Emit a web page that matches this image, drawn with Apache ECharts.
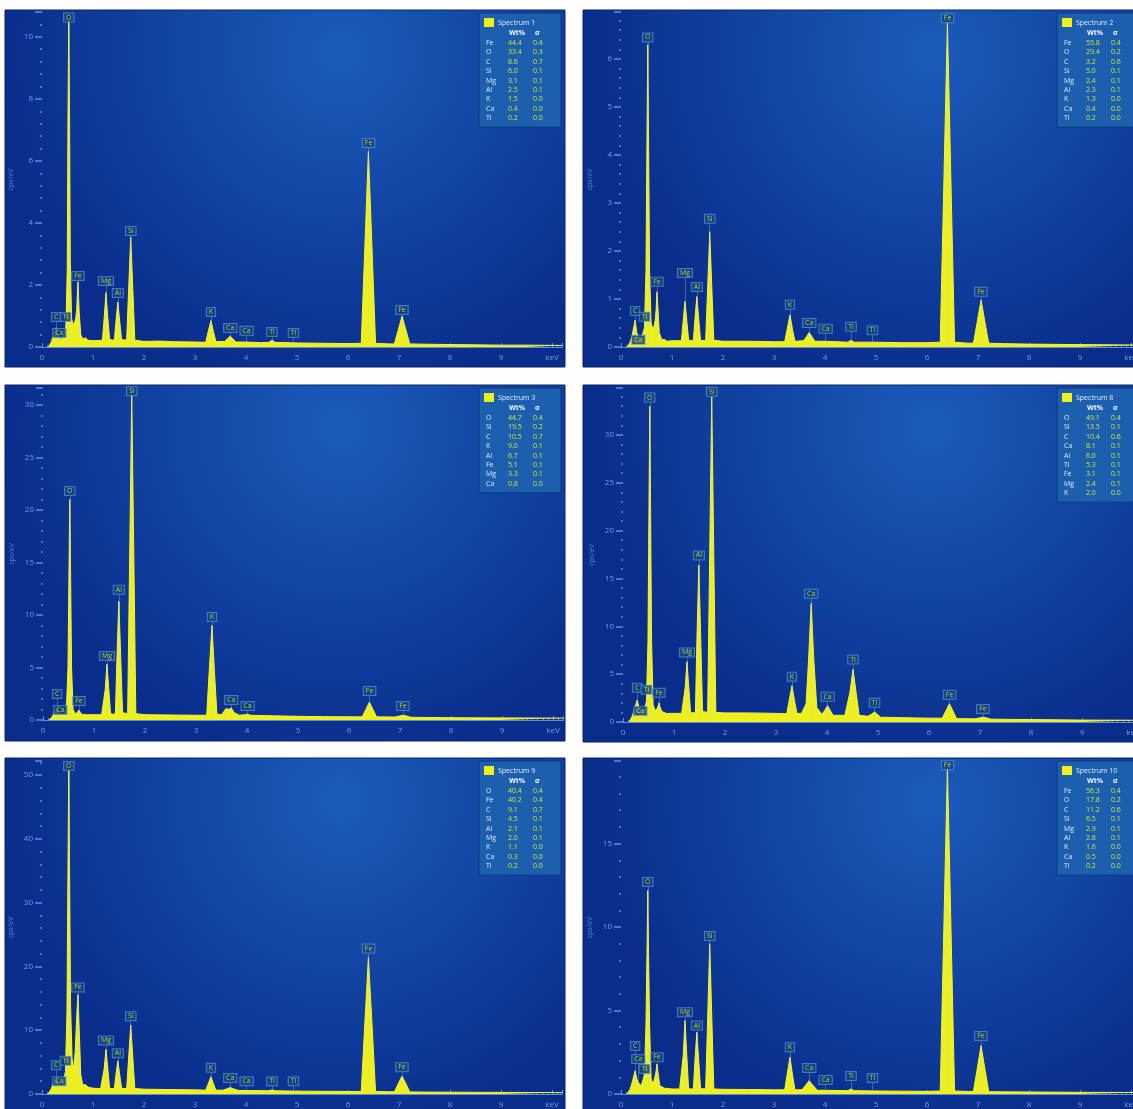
<!DOCTYPE html>
<html>
<head>
<meta charset="utf-8">
<title>EDS spectra</title>
<script src="https://cdn.jsdelivr.net/npm/echarts@6/dist/echarts.min.js"></script>
<style>
  html, body { margin: 0; padding: 0; background: #ffffff; overflow: hidden; }
  #chart { width: 1160px; height: 1109px; }
</style>
</head>
<body>
<div id="chart"></div>
<script>
// ---- spectrum titles and y-axis settings ----
const spectrumNames = ['Spectrum 1', 'Spectrum 2', 'Spectrum 3', 'Spectrum 8', 'Spectrum 9', 'Spectrum 10'];
const yMaxes = [10.8, 6.98, 31.6, 34.9, 52.2, 19.95];
const yIntervals = [2, 1, 5, 5, 10, 5];
const energyMax = 10.2;

// ---- spectra: [energy keV, counts cps/eV] ----
const spectrum1 = [[0.12,0],[0.18,0.15],[0.22,0.35],[0.25,0.45],[0.277,0.62],[0.30,0.4],[0.34,0.35],[0.37,0.22],[0.40,0.3],[0.44,0.45],[0.47,0.7],[0.495,2.5],[0.51,7.5],[0.525,10.5],[0.54,7.5],[0.555,2.8],[0.58,0.9],[0.62,0.7],[0.66,0.9],[0.68,1.2],[0.705,2.1],[0.73,1.1],[0.76,0.4],[0.80,0.25],[0.85,0.3],[0.9,0.22],[1.0,0.2],[1.1,0.21],[1.185,0.22],[1.22,0.95],[1.254,1.75],[1.29,0.95],[1.325,0.25],[1.38,0.22],[1.42,0.24],[1.45,0.82],[1.487,1.45],[1.524,0.82],[1.56,0.24],[1.66,0.22],[1.70,1.9],[1.74,3.55],[1.78,1.9],[1.82,0.22],[2.0,0.18],[2.3,0.19],[2.6,0.17],[3.0,0.16],[3.21,0.15],[3.26,0.5],[3.313,0.85],[3.36,0.5],[3.41,0.17],[3.58,0.18],[3.64,0.27],[3.69,0.35],[3.74,0.27],[3.8,0.16],[4.0,0.16],[4.3,0.14],[4.45,0.15],[4.51,0.22],[4.57,0.15],[5.0,0.13],[5.5,0.12],[6.0,0.11],[6.26,0.12],[6.33,3.2],[6.40,6.3],[6.47,3.2],[6.54,0.12],[6.8,0.1],[6.91,0.1],[6.985,0.55],[7.06,1.0],[7.135,0.55],[7.21,0.1],[7.5,0.09],[8,0.08],[8.5,0.07],[9,0.06],[9.5,0.06],[10.2,0.05]];
const spectrum2 = [[0.12,0],[0.18,0.1],[0.22,0.25],[0.277,0.56],[0.31,0.3],[0.34,0.22],[0.38,0.18],[0.42,0.25],[0.46,0.4],[0.49,1.6],[0.51,4.4],[0.525,6.3],[0.54,4.4],[0.56,1.6],[0.59,0.5],[0.63,0.35],[0.67,0.55],[0.69,0.8],[0.705,1.15],[0.725,0.8],[0.75,0.3],[0.8,0.15],[0.85,0.16],[0.9,0.12],[1.0,0.13],[1.1,0.13],[1.185,0.13],[1.22,0.55],[1.254,0.95],[1.29,0.55],[1.325,0.15],[1.38,0.13],[1.42,0.14],[1.45,0.58],[1.487,1.05],[1.524,0.58],[1.56,0.14],[1.66,0.13],[1.70,1.25],[1.74,2.4],[1.78,1.25],[1.82,0.14],[2.0,0.12],[2.5,0.12],[3.0,0.11],[3.21,0.11],[3.26,0.38],[3.313,0.67],[3.36,0.38],[3.41,0.12],[3.58,0.13],[3.64,0.22],[3.69,0.3],[3.74,0.22],[3.8,0.12],[4.0,0.12],[4.45,0.1],[4.51,0.14],[4.57,0.1],[5.0,0.1],[5.5,0.09],[6.0,0.09],[6.26,0.1],[6.33,3.4],[6.40,6.75],[6.47,3.4],[6.54,0.1],[6.8,0.08],[6.91,0.08],[6.985,0.52],[7.06,0.98],[7.135,0.52],[7.21,0.08],[7.5,0.07],[8,0.06],[9,0.05],[10.2,0.04]];
const spectrum3 = [[0.12,0],[0.18,0.3],[0.22,0.7],[0.277,1.1],[0.31,0.8],[0.34,0.7],[0.38,0.5],[0.42,0.7],[0.46,1.2],[0.49,5],[0.51,14.5],[0.525,21.0],[0.54,14.5],[0.56,5],[0.59,1.0],[0.63,0.6],[0.67,0.7],[0.69,0.8],[0.705,0.95],[0.725,0.75],[0.76,0.55],[0.85,0.5],[1.0,0.5],[1.15,0.5],[1.185,0.55],[1.22,2.9],[1.254,5.3],[1.29,2.9],[1.325,0.6],[1.38,0.55],[1.42,0.6],[1.45,5.9],[1.487,11.3],[1.524,5.9],[1.56,0.7],[1.66,0.6],[1.70,15.8],[1.74,31.0],[1.78,15.8],[1.82,0.6],[2.0,0.5],[2.5,0.48],[3.0,0.45],[3.21,0.45],[3.26,4.7],[3.313,9.0],[3.36,4.7],[3.41,0.55],[3.5,0.5],[3.59,1.1],[3.64,1.0],[3.69,1.15],[3.75,0.7],[3.85,0.45],[3.95,0.5],[4.01,0.55],[4.07,0.45],[4.5,0.4],[5.0,0.35],[5.5,0.32],[6.0,0.3],[6.26,0.3],[6.33,1.0],[6.40,1.7],[6.47,1.0],[6.54,0.3],[6.9,0.28],[6.985,0.37],[7.06,0.45],[7.135,0.37],[7.21,0.26],[8,0.22],[9,0.2],[10.2,0.18]];
const spectrum8 = [[0.12,0],[0.18,0.6],[0.22,1.2],[0.277,2.3],[0.31,1.6],[0.34,1.3],[0.38,1.0],[0.42,1.3],[0.46,2.2],[0.49,8.5],[0.51,23],[0.525,33.0],[0.54,23],[0.56,8.5],[0.59,1.8],[0.63,1.2],[0.67,1.4],[0.69,1.7],[0.705,2.0],[0.725,1.6],[0.76,1.1],[0.85,0.9],[1.0,0.9],[1.15,0.9],[1.185,1.0],[1.22,3.6],[1.254,6.3],[1.29,3.6],[1.325,1.0],[1.38,0.95],[1.42,1.0],[1.45,8.7],[1.487,16.4],[1.524,8.7],[1.56,1.1],[1.66,1.0],[1.70,17.5],[1.74,34.0],[1.78,17.5],[1.82,1.0],[2.0,0.95],[2.5,0.95],[3.0,0.9],[3.21,0.85],[3.26,2.3],[3.313,3.8],[3.36,2.3],[3.41,0.9],[3.5,0.9],[3.59,1.9],[3.64,6.6],[3.69,12.4],[3.74,6.6],[3.80,1.5],[3.9,0.8],[3.955,1.2],[4.01,1.7],[4.065,1.2],[4.12,0.7],[4.35,0.7],[4.45,3.1],[4.51,5.5],[4.57,3.1],[4.63,0.7],[4.8,0.6],[4.87,0.8],[4.93,1.05],[4.99,0.8],[5.05,0.5],[5.5,0.45],[6.0,0.4],[6.26,0.4],[6.33,1.15],[6.40,1.9],[6.47,1.15],[6.54,0.35],[6.9,0.33],[6.985,0.42],[7.06,0.5],[7.135,0.42],[7.21,0.3],[8,0.25],[9,0.2],[10.2,0.18]];
const spectrum9 = [[0.12,0],[0.18,0.8],[0.22,1.6],[0.277,2.6],[0.31,2.0],[0.34,1.6],[0.38,1.3],[0.42,2.0],[0.46,3.5],[0.49,13],[0.51,36],[0.525,51.0],[0.54,36],[0.56,14],[0.59,5.5],[0.62,4.0],[0.65,6.5],[0.68,12],[0.705,15.6],[0.73,10],[0.76,3.0],[0.80,1.4],[0.85,1.5],[0.9,1.1],[1.0,0.9],[1.15,0.85],[1.185,0.9],[1.22,4.0],[1.254,7.0],[1.29,4.0],[1.325,0.9],[1.38,0.85],[1.42,0.9],[1.45,3.0],[1.487,5.2],[1.524,3.0],[1.56,0.9],[1.66,0.85],[1.70,5.8],[1.74,10.8],[1.78,5.8],[1.82,0.85],[2.0,0.75],[2.5,0.7],[3.0,0.65],[3.21,0.6],[3.26,1.6],[3.313,2.7],[3.36,1.6],[3.41,0.6],[3.55,0.6],[3.64,0.85],[3.69,1.0],[3.74,0.85],[3.85,0.55],[4.0,0.55],[4.45,0.5],[4.51,0.65],[4.57,0.5],[5.0,0.45],[5.5,0.42],[6.0,0.4],[6.26,0.4],[6.33,11],[6.40,21.4],[6.47,11],[6.54,0.4],[6.8,0.35],[6.91,0.35],[6.985,1.6],[7.06,2.8],[7.135,1.6],[7.21,0.33],[7.5,0.3],[8,0.28],[9,0.25],[10.2,0.22]];
const spectrum10 = [[0.12,0],[0.18,0.3],[0.22,0.7],[0.277,1.4],[0.31,0.9],[0.34,0.7],[0.38,0.5],[0.42,0.7],[0.46,1.2],[0.49,4.2],[0.51,8.5],[0.525,12.2],[0.54,8.5],[0.56,4.2],[0.59,0.9],[0.63,0.6],[0.67,1.1],[0.69,1.4],[0.705,1.8],[0.725,1.3],[0.76,0.5],[0.85,0.35],[1.0,0.3],[1.15,0.3],[1.185,0.3],[1.22,2.3],[1.254,4.4],[1.29,2.3],[1.325,0.32],[1.38,0.3],[1.42,0.32],[1.45,2.0],[1.487,3.7],[1.524,2.0],[1.56,0.32],[1.66,0.3],[1.70,4.6],[1.74,9.0],[1.78,4.6],[1.82,0.3],[2.0,0.28],[2.5,0.27],[3.0,0.25],[3.21,0.25],[3.26,1.2],[3.313,2.2],[3.36,1.2],[3.41,0.25],[3.55,0.25],[3.64,0.6],[3.69,0.8],[3.74,0.6],[3.85,0.22],[4.0,0.22],[4.45,0.2],[4.51,0.3],[4.57,0.2],[5.0,0.18],[5.5,0.17],[6.0,0.16],[6.26,0.18],[6.33,9.9],[6.40,19.6],[6.47,9.9],[6.54,0.18],[6.8,0.15],[6.91,0.15],[6.985,1.5],[7.06,2.9],[7.135,1.5],[7.21,0.14],[7.5,0.13],[8,0.12],[9,0.1],[10.2,0.09]];

// ---- peak identification labels: [energy keV, label height cps/eV, element] ----
const peaks1 = [[0.277,0.97,'C'],[0.34,0.45,'Ca'],[0.46,0.97,'Ti'],[0.525,10.62,'O'],[0.705,2.29,'Fe'],[1.254,2.13,'Mg'],[1.487,1.74,'Al'],[1.74,3.74,'Si'],[3.313,1.13,'K'],[3.691,0.61,'Ca'],[4.012,0.52,'Ca'],[4.51,0.48,'Ti'],[4.931,0.45,'Ti'],[6.403,6.58,'Fe'],[7.057,1.19,'Fe']];
const peaks2 = [[0.277,0.75,'C'],[0.34,0.15,'Ca'],[0.46,0.63,'Ti'],[0.525,6.45,'O'],[0.705,1.36,'Fe'],[1.254,1.54,'Mg'],[1.487,1.25,'Al'],[1.74,2.67,'Si'],[3.313,0.88,'K'],[3.691,0.5,'Ca'],[4.012,0.38,'Ca'],[4.51,0.42,'Ti'],[4.931,0.35,'Ti'],[6.403,6.85,'Fe'],[7.057,1.15,'Fe']];
const peaks3 = [[0.277,2.48,'C'],[0.34,0.95,'Ca'],[0.525,21.8,'O'],[0.705,1.81,'Fe'],[1.254,6.1,'Mg'],[1.487,12.4,'Al'],[1.74,31.3,'Si'],[3.313,9.8,'K'],[3.691,1.9,'Ca'],[4.012,1.33,'Ca'],[6.403,2.76,'Fe'],[7.057,1.33,'Fe']];
const peaks8 = [[0.277,3.58,'C'],[0.34,1.16,'Ca'],[0.46,3.37,'Ti'],[0.525,33.9,'O'],[0.705,3.06,'Fe'],[1.254,7.27,'Mg'],[1.487,17.4,'Al'],[1.74,34.5,'Si'],[3.313,4.74,'K'],[3.691,13.4,'Ca'],[4.012,2.63,'Ca'],[4.51,6.53,'Ti'],[4.931,2.0,'Ti'],[6.403,2.85,'Fe'],[7.057,1.37,'Fe']];
const peaks9 = [[0.277,4.5,'C'],[0.34,2.0,'Ca'],[0.46,5.2,'Ti'],[0.525,51.4,'O'],[0.705,16.7,'Fe'],[1.254,8.4,'Mg'],[1.487,6.4,'Al'],[1.74,12.2,'Si'],[3.313,4.1,'K'],[3.691,2.5,'Ca'],[4.012,2.0,'Ca'],[4.51,2.0,'Ti'],[4.931,2.0,'Ti'],[6.403,22.8,'Fe'],[7.057,4.2,'Fe']];
const peaks10 = [[0.277,2.87,'C'],[0.34,2.1,'Ca'],[0.46,1.5,'Ti'],[0.525,12.7,'O'],[0.705,2.2,'Fe'],[1.254,4.9,'Mg'],[1.487,4.1,'Al'],[1.74,9.46,'Si'],[3.313,2.8,'K'],[3.691,1.56,'Ca'],[4.012,0.84,'Ca'],[4.51,1.08,'Ti'],[4.931,0.96,'Ti'],[6.403,19.7,'Fe'],[7.057,3.47,'Fe']];

// ---- quantification tables ----
const elements1 = ['Fe','O','C','Si','Mg','Al','K','Ca','Ti'];
const wt1 = ['44.4','33.4','8.6','6.0','3.1','2.5','1.5','0.4','0.2'];
const sigma1 = ['0.4','0.3','0.7','0.1','0.1','0.1','0.0','0.0','0.0'];
const elements2 = ['Fe','O','C','Si','Mg','Al','K','Ca','Ti'];
const wt2 = ['55.8','29.4','3.2','5.0','2.4','2.3','1.3','0.4','0.2'];
const sigma2 = ['0.4','0.2','0.6','0.1','0.1','0.1','0.0','0.0','0.0'];
const elements3 = ['O','Si','C','K','Al','Fe','Mg','Ca'];
const wt3 = ['44.7','19.5','10.5','9.0','6.7','5.1','3.3','0.8'];
const sigma3 = ['0.4','0.2','0.7','0.1','0.1','0.1','0.1','0.0'];
const elements8 = ['O','Si','C','Ca','Al','Ti','Fe','Mg','K'];
const wt8 = ['49.1','13.5','10.4','8.1','6.0','5.3','3.1','2.4','2.0'];
const sigma8 = ['0.4','0.1','0.6','0.1','0.1','0.1','0.1','0.1','0.0'];
const elements9 = ['O','Fe','C','Si','Al','Mg','K','Ca','Ti'];
const wt9 = ['40.4','40.2','9.1','4.5','2.1','2.0','1.1','0.3','0.2'];
const sigma9 = ['0.4','0.4','0.7','0.1','0.1','0.1','0.0','0.0','0.0'];
const elements10 = ['Fe','O','C','Si','Mg','Al','K','Ca','Ti'];
const wt10 = ['56.3','17.8','11.2','6.5','2.9','2.8','1.6','0.5','0.2'];
const sigma10 = ['0.4','0.2','0.6','0.1','0.1','0.1','0.0','0.0','0.0'];

const spectra = [spectrum1, spectrum2, spectrum3, spectrum8, spectrum9, spectrum10];
const peakSets = [peaks1, peaks2, peaks3, peaks8, peaks9, peaks10];
const tables = [
  [elements1, wt1, sigma1], [elements2, wt2, sigma2], [elements3, wt3, sigma3],
  [elements8, wt8, sigma8], [elements9, wt9, sigma9], [elements10, wt10, sigma10]
];

// ---- panel placement (pixels) ----
const panelLayout = [
  { bg: [5, 10, 560, 357],   x0: 42,  top: 12,  zero: 347 },
  { bg: [583, 10, 580, 357], x0: 621, top: 12,  zero: 347 },
  { bg: [5, 385, 560, 356],  x0: 43,  top: 388, zero: 720 },
  { bg: [583, 385, 580, 357],x0: 623, top: 388, zero: 722 },
  { bg: [5, 758, 560, 353],  x0: 42,  top: 761, zero: 1095 },
  { bg: [583, 758, 580, 353],x0: 621, top: 761, zero: 1095 }
];
const pxPerKeV = 51;

const FONT = 'Open Sans, Noto Sans, sans-serif';
const YELLOW = '#eef01c';
const AXIS_TEXT = '#6d9fe2';
const AXIS_LINE = '#5d8fda';

const grids = [], xAxes = [], yAxes = [], series = [], graphics = [];

panelLayout.forEach((p, i) => {
  const height = p.zero - p.top;
  const pxPerUnit = height / yMaxes[i];

  // panel background
  graphics.push({
    type: 'rect', z: -10, silent: true,
    shape: { x: p.bg[0], y: p.bg[1], width: p.bg[2], height: p.bg[3] },
    style: {
      fill: {
        type: 'radial', x: 0.6, y: 0.12, r: 0.95,
        colorStops: [{ offset: 0, color: '#1b5cbb' }, { offset: 1, color: '#0a2d8c' }]
      },
      stroke: '#08246e', lineWidth: 1
    }
  });

  grids.push({ left: p.x0, top: p.top, width: energyMax * pxPerKeV, height: height, containLabel: false });

  xAxes.push({
    gridIndex: i, type: 'value', min: 0, max: energyMax, interval: 1, offset: 3,
    axisLine: { show: true, lineStyle: { color: AXIS_LINE, width: 1 } },
    axisTick: { show: true, length: 4, inside: true, lineStyle: { color: AXIS_LINE } },
    minorTick: { show: true, splitNumber: 10, length: 2, lineStyle: { color: AXIS_LINE } },
    splitLine: { show: false },
    axisLabel: {
      color: AXIS_TEXT, fontSize: 8, fontFamily: FONT, margin: 4,
      formatter: v => (Math.abs(v - Math.round(v)) > 1e-6 ? '' : (Math.round(v) === 10 ? 'keV' : String(Math.round(v))))
    }
  });

  yAxes.push({
    gridIndex: i, type: 'value', min: 0, max: yMaxes[i], interval: yIntervals[i], offset: 6,
    name: 'cps/eV', nameLocation: 'middle', nameGap: 22, nameRotate: 90,
    nameTextStyle: { color: '#4f86d4', fontSize: 7, fontFamily: FONT },
    axisLine: { show: false },
    axisTick: { show: true, length: 7, lineStyle: { color: AXIS_LINE, width: 1.5 } },
    minorTick: { show: true, splitNumber: 5, length: 2, lineStyle: { color: AXIS_LINE, width: 1.5 } },
    splitLine: { show: false },
    axisLabel: {
      color: AXIS_TEXT, fontSize: 8, fontFamily: FONT, margin: 3,
      formatter: v => (Math.abs(v / yIntervals[i] - Math.round(v / yIntervals[i])) > 1e-6 ? '' : String(v))
    }
  });

  // spectrum trace
  series.push({
    type: 'line', xAxisIndex: i, yAxisIndex: i, data: spectra[i],
    symbol: 'none', smooth: false, clip: true, z: 3,
    lineStyle: { color: '#f4f43a', width: 1 },
    areaStyle: { color: YELLOW, opacity: 1 }
  });

  // peak markers and their element tags
  const halfBox = 5 / pxPerUnit;
  series.push({
    type: 'scatter', xAxisIndex: i, yAxisIndex: i, z: 5,
    symbolSize: 1, itemStyle: { color: 'rgba(0,0,0,0)' },
    data: peakSets[i].map(pk => ({ value: [pk[0], pk[1]], name: pk[2] })),
    label: {
      show: true, position: 'inside', formatter: '{b}',
      fontSize: 7, fontFamily: FONT, color: '#d6ef3a',
      backgroundColor: '#143f7c', borderColor: '#4b90d2', borderWidth: 1,
      padding: [1, 2, 0, 2]
    },
    markLine: {
      silent: true, symbol: 'none', animation: false,
      label: { show: false },
      lineStyle: { color: 'rgba(190,208,232,0.32)', width: 1, type: 'solid' },
      data: peakSets[i].map(pk => [{ coord: [pk[0], 0] }, { coord: [pk[0], Math.max(0, pk[1] - halfBox)] }])
    }
  });

  // quantification table
  const [els, wts, sigs] = tables[i];
  const bx = p.bg[0] + 474, by = p.bg[1] + 3;
  const rowStep = 9.4;
  const boxH = 30 + (els.length - 1) * rowStep + 9;
  const txt = (x, y, s, fill, bold) => ({
    type: 'text', z: 20, silent: true, x: x, y: y,
    style: { text: s, fill: fill, fontSize: 7, fontFamily: FONT, fontWeight: bold ? 'bold' : 'normal', verticalAlign: 'middle', align: 'left' }
  });
  graphics.push({
    type: 'rect', z: 19, silent: true,
    shape: { x: bx, y: by, width: 82, height: boxH },
    style: { fill: '#1c5fae', stroke: '#0d377e', lineWidth: 1 }
  });
  graphics.push({
    type: 'rect', z: 20, silent: true,
    shape: { x: bx + 5, y: by + 5, width: 10, height: 9 },
    style: { fill: YELLOW }
  });
  graphics.push(txt(bx + 19, by + 10, spectrumNames[i], '#e4ecf6', false));
  graphics.push(txt(bx + 30, by + 20, 'Wt%', '#f2f6fb', true));
  graphics.push(txt(bx + 56, by + 20, 'σ', '#f2f6fb', true));
  els.forEach((el, r) => {
    const y = by + 30 + r * rowStep;
    graphics.push(txt(bx + 7, y, el, '#dfe8f3', false));
    graphics.push(txt(bx + 29, y, wts[r], '#c8e63c', false));
    graphics.push(txt(bx + 54, y, sigs[r], '#c8e63c', false));
  });
});

const chart = echarts.init(document.getElementById('chart'), null, { renderer: 'canvas' });
chart.setOption({
  animation: false,
  backgroundColor: '#ffffff',
  graphic: { elements: graphics },
  grid: grids,
  xAxis: xAxes,
  yAxis: yAxes,
  series: series
});
</script>
</body>
</html>
